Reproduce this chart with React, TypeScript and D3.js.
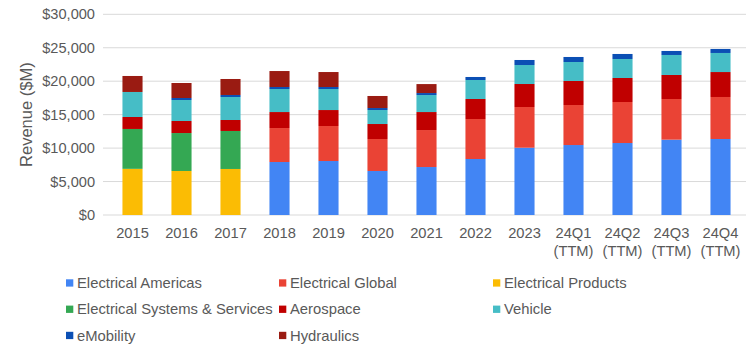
import React from "react";
import * as d3 from "d3";

const categories = ["2015","2016","2017","2018","2019","2020","2021","2022","2023","24Q1\n(TTM)","24Q2\n(TTM)","24Q3\n(TTM)","24Q4\n(TTM)"];
const seriesNames = ["Electrical Americas","Electrical Global","Electrical Products","Electrical Systems & Services","Aerospace","Vehicle","eMobility","Hydraulics"];
const colors = ["#4285F4","#EA4335","#FBBC04","#34A853","#C00000","#46BDC6","#0B4FB4","#9A1B12"];

const electricalAmericas = [0,0,0,7.92,8.07,6.58,7.17,8.37,10.06,10.46,10.76,11.26,11.36];
const electricalGlobal = [0,0,0,5.08,5.23,4.78,5.53,5.98,6.08,5.98,6.13,6.08,6.28];
const electricalProducts = [6.9,6.58,6.88,0,0,0,0,0,0,0,0,0,0];
const electricalSystems = [5.96,5.67,5.68,0,0,0,0,0,0,0,0,0,0];
const aerospace = [1.79,1.8,1.64,2.39,2.39,2.24,2.69,2.99,3.44,3.59,3.59,3.59,3.73];
const vehicle = [3.74,3.14,3.44,3.44,3.14,2.09,2.54,2.84,2.84,2.84,2.84,2.99,2.85];
const eMobility = [0,0.3,0.3,0.3,0.3,0.3,0.3,0.45,0.75,0.75,0.75,0.6,0.6];
const hydraulics = [2.39,2.24,2.39,2.39,2.24,1.8,1.34,0,0,0,0,0,0];
const yTicks = [0,5000,10000,15000,20000,25000,30000];

const series = [electricalAmericas, electricalGlobal, electricalProducts, electricalSystems, aerospace, vehicle, eMobility, hydraulics];

export default function App() {
  const W = 752, H = 350;
  const left = 108, right = 745, top = 14.3, bottom = 215;
  const x = d3.scaleBand<string>().domain(categories).range([left, right]).paddingInner(0.59).paddingOuter(0.295);
  const y = d3.scaleLinear().domain([0, 30000]).range([bottom, top]);
  const rows = categories.map((c, i) => {
    const o: any = { cat: c };
    seriesNames.forEach((s, k) => (o[s] = series[k][i] * 1000));
    return o;
  });
  const stacked = d3.stack<any>().keys(seriesNames)(rows);
  const textColor = "#595959";
  const font = "Arial, 'Liberation Sans', sans-serif";
  const legendCols = [66, 279, 493];
  const legendRows = [283, 309.3, 335.5];
  return (
    <svg width={W} height={H} style={{ position: "absolute", left: 0, top: 0, background: "#fff" }} fontFamily={font}>
      {yTicks.map((t) => (
        <g key={t}>
          <line x1={103} x2={746} y1={y(t)} y2={y(t)} stroke="#d9d9d9" strokeWidth={1} />
          <text x={95} y={y(t)} dy="0.35em" textAnchor="end" fontSize={14.6} fill={textColor}>
            {d3.format("$,")(t)}
          </text>
        </g>
      ))}
      {stacked.map((layer, k) => (
        <g key={layer.key} fill={colors[k]}>
          {layer.map((d, i) => {
            const h = y(d[0]) - y(d[1]);
            if (h <= 0) return null;
            return <rect key={i} x={x(categories[i])} y={y(d[1])} width={x.bandwidth()} height={h} />;
          })}
        </g>
      ))}
      {categories.map((c) => {
        const lines = c.split("\n");
        const cx = (x(c) as number) + x.bandwidth() / 2;
        return (
          <text key={c} x={cx} y={237.5} textAnchor="middle" fontSize={14.7} fill={textColor}>
            {lines.map((l, j) => (
              <tspan key={j} x={cx} dy={j === 0 ? 0 : 18}>{l}</tspan>
            ))}
          </text>
        );
      })}
      <text transform={`translate(32,${y(15000)}) rotate(-90)`} textAnchor="middle" fontSize={16.5} fill={textColor}>
        Revenue ($M)
      </text>
      {seriesNames.map((s, k) => {
        const cx = legendCols[k % 3];
        const cy = legendRows[Math.floor(k / 3)];
        return (
          <g key={s}>
            <rect x={cx} y={cy - 3.7} width={7.3} height={7.3} fill={colors[k]} />
            <text x={cx + 11} y={cy} dy="0.35em" fontSize={14.8} fill={textColor}>{s}</text>
          </g>
        );
      })}
    </svg>
  );
}
